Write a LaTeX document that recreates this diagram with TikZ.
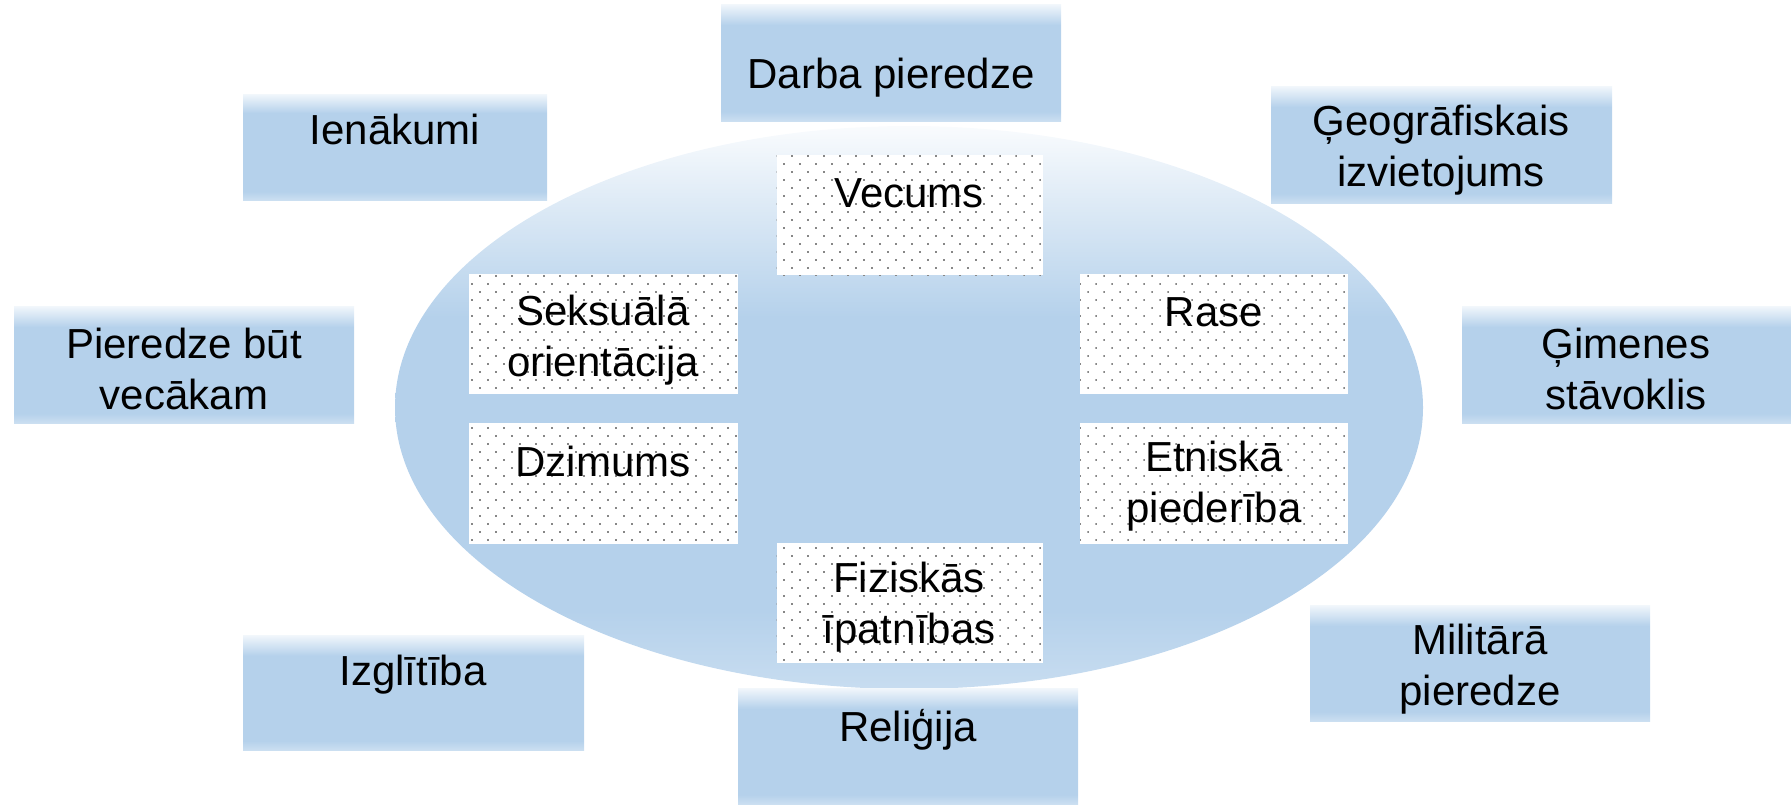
\documentclass[tikz,border=0pt]{standalone}
\usepackage{fontspec}
\setmainfont{Liberation Sans}
\usetikzlibrary{patterns.meta,shapes.geometric}
\definecolor{lb}{RGB}{181,209,235}
\definecolor{dotgray}{RGB}{135,135,135}
\pgfdeclareverticalshading{boxshade}{100bp}{color(0bp)=(lb!70!white); color(25bp)=(lb!70!white); color(29bp)=(lb); color(66bp)=(lb); color(75bp)=(lb!18!white); color(100bp)=(lb!18!white)}
\pgfdeclareverticalshading{ellshade}{100bp}{color(0bp)=(lb!75!white); color(25bp)=(lb!75!white); color(32bp)=(lb); color(58bp)=(lb); color(75bp)=(lb!8!white); color(100bp)=(lb!8!white)}
\tikzset{
  obox/.style={rectangle, inner sep=0pt, shading=boxshade},
  ibox/.style={rectangle, inner sep=0pt, preaction={fill=white}, pattern={Dots[distance=11.314pt, angle=45, radius=1.1pt]}, pattern color=dotgray},
  txt/.style={inner sep=0pt, align=center, font=\fontsize{42}{51}\selectfont},
  one/.style={txt, text height=30pt, text depth=0pt}
}
\begin{document}
\begin{tikzpicture}[x=1pt,y=-1pt]
\useasboundingbox (0,0) rectangle (1791,804);
% big ellipse
\node[ellipse, inner sep=0pt, minimum width=1028pt, minimum height=563pt, shading=ellshade] (ell) at (909,407.5) {};
% outer boxes
\node[obox, minimum width=340pt, minimum height=117pt] (darba) at (891,62.5) {};
\node[obox, minimum width=304pt, minimum height=106pt] (ien) at (395,147) {};
\node[obox, minimum width=341pt, minimum height=117pt] (geo) at (1441.5,144.5) {};
\node[obox, minimum width=340pt, minimum height=117pt] (pier) at (184,364.5) {};
\node[obox, minimum width=329pt, minimum height=117pt] (gim) at (1626.5,364.5) {};
\node[obox, minimum width=341pt, minimum height=115pt] (izgl) at (413.5,692.5) {};
\node[obox, minimum width=340pt, minimum height=116pt] (rel) at (908,746) {};
\node[obox, minimum width=340pt, minimum height=116pt] (mil) at (1480,663) {};
% inner boxes
\node[ibox, minimum width=266pt, minimum height=120pt] (vec) at (909.5,215) {};
\node[ibox, minimum width=269pt, minimum height=120pt] (sek) at (603.5,334) {};
\node[ibox, minimum width=268pt, minimum height=120pt] (rase) at (1214,334) {};
\node[ibox, minimum width=269pt, minimum height=121pt] (dz) at (603.5,483.5) {};
\node[ibox, minimum width=268pt, minimum height=121pt] (etn) at (1214,483.5) {};
\node[ibox, minimum width=266pt, minimum height=120pt] (fiz) at (909.5,603) {};
% texts
\node[one] (tdarba) at (891,73) {Darba pieredze};
\node[one] (tien) at (395,129) {Ienākumi};
\node[txt] (tgeo) at (1441,150) {Ģeogrāfiskais\\izvietojums};
\node[txt] (tpier) at (184,369) {Pieredze būt\\vecākam};
\node[txt] (tgim) at (1626,369) {Ģimenes\\stāvoklis};
\node[one] (tizgl) at (413,670) {Izglītība};
\node[one] (trel) at (908,726) {Reliģija};
\node[txt] (tmil) at (1480,669) {Militārā\\pieredze};
\node[one] (tvec) at (909,192) {Vecums};
\node[txt] (tsek) at (603,340) {Seksuālā\\orientācija};
\node[one] (trase) at (1214,311) {Rase};
\node[one] (tdz) at (603,461) {Dzimums};
\node[txt] (tetn) at (1214,486) {Etniskā\\piederība};
\node[txt] (tfiz) at (909,607) {Fiziskās\\īpatnības};
\end{tikzpicture}
\end{document}
